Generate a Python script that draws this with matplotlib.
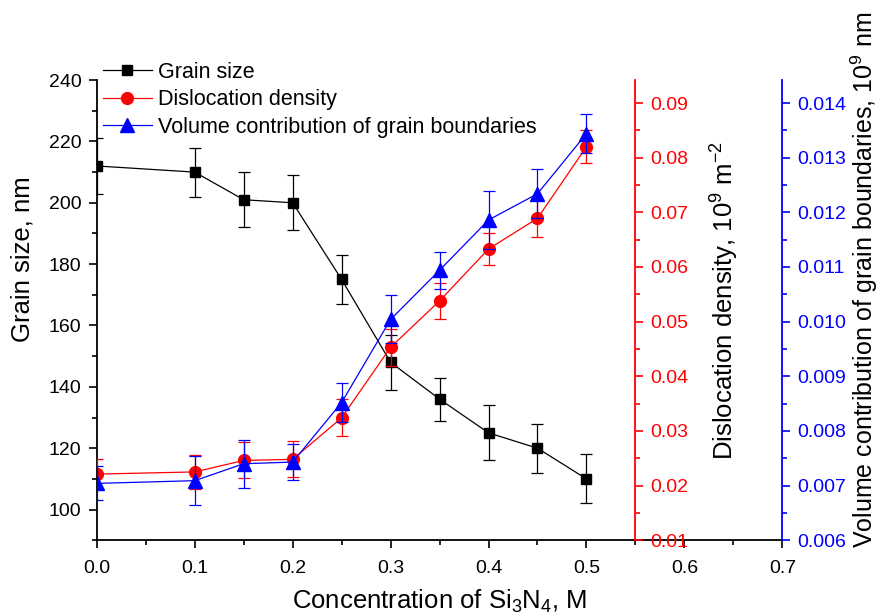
import numpy as np
import matplotlib.pyplot as plt
from matplotlib.ticker import MultipleLocator, FormatStrFormatter

plt.rcParams['font.family'] = ['Liberation Sans', 'DejaVu Sans']
plt.rcParams['mathtext.fontset'] = 'custom'
plt.rcParams['mathtext.rm'] = 'Liberation Sans'
plt.rcParams['mathtext.it'] = 'Liberation Sans:italic'

conc = [0.0, 0.1, 0.15, 0.2, 0.25, 0.3, 0.35, 0.4, 0.45, 0.5]

grain = [212, 210, 201, 200, 175, 148, 136, 125, 120, 110]
grain_err = [9, 8, 9, 9, 8, 9, 7, 9, 8, 8]

disl = [0.0221, 0.0225, 0.0246, 0.0248, 0.0324, 0.0453, 0.0538, 0.0633, 0.0689, 0.0820]
disl_err = [0.0028, 0.0031, 0.0033, 0.0033, 0.0034, 0.0034, 0.0033, 0.0029, 0.0035, 0.0030]

vol = [0.00704, 0.00709, 0.00740, 0.00743, 0.00852, 0.01004, 0.01094, 0.01186, 0.01234, 0.01344]
vol_err = [0.00031, 0.00045, 0.00044, 0.00033, 0.00035, 0.00044, 0.00034, 0.00053, 0.00045, 0.00036]

fig = plt.figure(figsize=(8.8, 6.16), dpi=100)
ax = fig.add_axes([0.110, 0.123, 0.779, 0.747])
ax2 = ax.twinx()
ax3 = ax.twinx()

l1 = ax.errorbar(conc, grain, yerr=grain_err, color='black', marker='s', markersize=7.5,
                 lw=0.9, elinewidth=0.9, capsize=4, capthick=0.9)
l2 = ax2.errorbar(conc, disl, yerr=disl_err, color='red', marker='o', markersize=8.5,
                  lw=0.9, elinewidth=0.9, capsize=4, capthick=0.9)
l3 = ax3.errorbar(conc, vol, yerr=vol_err, color='blue', marker='^', markersize=9.5,
                  lw=0.9, elinewidth=0.9, capsize=4, capthick=0.9)

ax.set_xlim(0, 0.7)
ax.set_ylim(90, 240)
ax2.set_ylim(0.01, 0.0942)
ax3.set_ylim(0.006, 0.01442)

for s in ['top', 'right']:
    ax.spines[s].set_visible(False)
for a in (ax2, ax3):
    for s in ['top', 'left', 'bottom']:
        a.spines[s].set_visible(False)
ax2.spines['right'].set_position(('axes', 0.55 / 0.7))
ax2.spines['right'].set_color('red')
ax3.spines['right'].set_color('blue')
for a in (ax, ax2, ax3):
    for s in a.spines.values():
        s.set_linewidth(1.3)

ax.xaxis.set_major_locator(MultipleLocator(0.1))
ax.xaxis.set_minor_locator(MultipleLocator(0.05))
ax.xaxis.set_major_formatter(FormatStrFormatter('%.1f'))
ax.set_yticks(range(100, 241, 20))
ax.yaxis.set_minor_locator(MultipleLocator(10))
ax2.yaxis.set_major_locator(MultipleLocator(0.01))
ax2.yaxis.set_minor_locator(MultipleLocator(0.005))
ax2.yaxis.set_major_formatter(FormatStrFormatter('%.2f'))
ax3.yaxis.set_major_locator(MultipleLocator(0.001))
ax3.yaxis.set_minor_locator(MultipleLocator(0.0005))
ax3.yaxis.set_major_formatter(FormatStrFormatter('%.3f'))

ax.tick_params(which='major', direction='out', length=6, width=1.2, labelsize=14)
ax.tick_params(which='minor', direction='out', length=3.5, width=1.2)
ax.tick_params(axis='x', which='major', pad=8)
ax.tick_params(axis='y', which='major', pad=5)
for a, c in ((ax2, 'red'), (ax3, 'blue')):
    a.tick_params(which='both', colors=c, width=1.2, labelsize=14)
    a.tick_params(which='major', length=6, pad=5)
    a.tick_params(which='minor', length=3.5)

ax.set_xlabel('Concentration of Si$_3$N$_4$, M', fontsize=18.5, labelpad=8)
ax.set_ylabel('Grain size, nm', fontsize=18.5)
ax.yaxis.set_label_coords(-0.091, 0.611)
ax2.set_ylabel('Dislocation density, 10$^9$ m$^{-2}$', fontsize=18.5)
ax2.yaxis.set_label_coords(0.893, 0.522)
ax3.set_ylabel('Volume contribution of grain boundaries, 10$^9$ nm', fontsize=18)
ax3.yaxis.set_label_coords(1.097, 0.566)

ax3.legend([l1[0], l2[0], l3[0]], ['Grain size', 'Dislocation density',
                                   'Volume contribution of grain boundaries'],
           loc='upper left', bbox_to_anchor=(-0.004, 1.059), frameon=False,
           fontsize=15.5, handlelength=2.3, labelspacing=0.31, handletextpad=0.28,
           borderaxespad=0)

fig.savefig('out.png', dpi=100)
